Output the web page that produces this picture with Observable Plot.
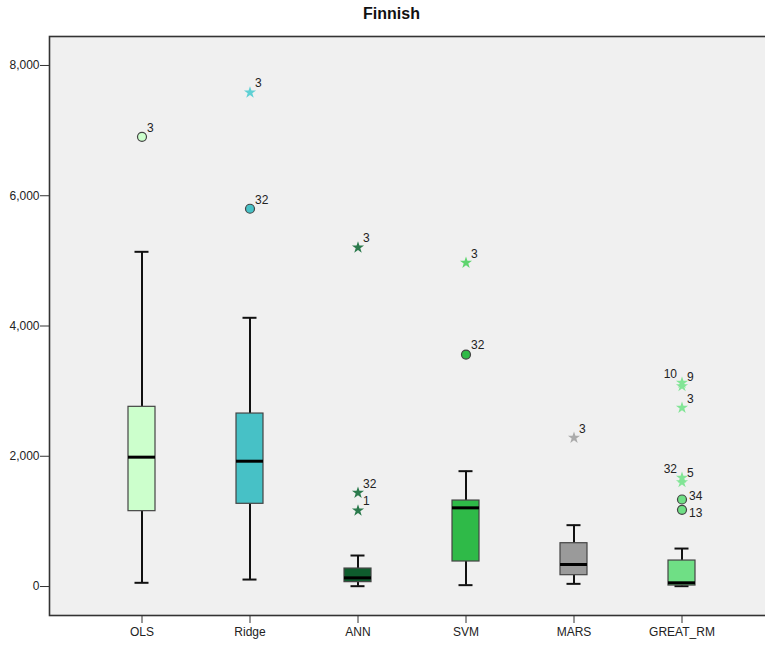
<!DOCTYPE html>
<html>
<head>
<meta charset="utf-8">
<script src="https://cdn.jsdelivr.net/npm/d3@7"></script>
<script src="https://cdn.jsdelivr.net/npm/@observablehq/plot@0.6"></script>
<style>
  body { margin: 0; background: #fff; font-family: "Liberation Sans", Arial, sans-serif; overflow: hidden; }
  #title { width: 765px; height: 30px; box-sizing: border-box; padding-left: 18px; padding-top: 5px;
           text-align: center; font-weight: bold; font-size: 16px; color: #111; }
  #chart { width: 765px; overflow: hidden; }
  #chart svg { max-width: none !important; }
</style>
</head>
<body>
<div id="title">Finnish</div>
<div id="chart"></div>
<script>
// Methods compared, in axis order
const methods = ["OLS", "Ridge", "ANN", "SVM", "MARS", "GREAT_RM"];

// Box summary per method
const whiskerLow  = [57, 107, 5, 21, 41, 5];
const q1          = [1157, 1270, 67, 384, 174, 15];
const median      = [1986, 1924, 133, 1208, 338, 57];
const q3          = [2759, 2656, 276, 1320, 665, 399];
const whiskerHigh = [5139, 4126, 476, 1771, 942, 583];

// Outlying cases: method, value, case label, kind (outlier = circle, extreme = star)
const outlierMethod = ["OLS", "Ridge", "Ridge", "ANN", "ANN", "ANN", "SVM", "SVM", "MARS",
                       "GREAT_RM", "GREAT_RM", "GREAT_RM", "GREAT_RM", "GREAT_RM", "GREAT_RM", "GREAT_RM"];
const outlierValue  = [6905, 7585, 5800, 5205, 1439, 1167, 4970, 3562, 2283,
                       3128, 3076, 2744, 1669, 1602, 1336, 1178];
const outlierCase   = ["3", "3", "32", "3", "32", "1", "3", "32", "3",
                       "10", "9", "3", "32", "5", "34", "13"];
const outlierKind   = ["outlier", "extreme", "outlier", "extreme", "extreme", "extreme", "extreme", "outlier", "extreme",
                       "extreme", "extreme", "extreme", "extreme", "extreme", "outlier", "outlier"];

const yTicks = [0, 2000, 4000, 6000, 8000];

// Fill colours per method
const boxFill  = ["#ccffcc", "#47c1c6", "#0e5c2d", "#2fba48", "#9a9a9a", "#6fdf85"];
const starFill = ["#ccffcc", "#5fd0d4", "#2b7a4c", "#5fd56f", "#ababab", "#82e596"];

const boxes = methods.map((m, i) => ({
  method: m, lo: whiskerLow[i], q1: q1[i], med: median[i], q3: q3[i], hi: whiskerHigh[i], fill: boxFill[i]
}));
const points = outlierMethod.map((m, i) => ({
  method: m, value: outlierValue[i], label: outlierCase[i], kind: outlierKind[i],
  fill: outlierKind[i] === "extreme" ? starFill[methods.indexOf(m)] : boxFill[methods.indexOf(m)]
}));

// Label placement around each marker (left-side labels where two cases overlap)
const placeKey = d => d.method + ":" + d.label;
const leftLabels = ["GREAT_RM:10", "GREAT_RM:32"];
const besideUp = ["GREAT_RM:34"];
const besideDown = ["GREAT_RM:13"];
const special = [...leftLabels, ...besideUp, ...besideDown];
const rightTop = points.filter(d => !special.includes(placeKey(d)));
const leftTop = points.filter(d => leftLabels.includes(placeKey(d)));
const upper = points.filter(d => besideUp.includes(placeKey(d)));
const lower = points.filter(d => besideDown.includes(placeKey(d)));

const textStyle = {x: "method", y: "value", text: "label", fill: "#222", fontSize: 12};

// The plot area runs past the right edge of the page, so its right border is cut off
const chart = Plot.plot({
  width: 800,
  height: 618,
  marginLeft: 49,
  marginRight: 0,
  marginTop: 6,
  marginBottom: 33,
  style: {fontFamily: "Liberation Sans, Arial, sans-serif", fontSize: "12px", color: "#222", background: "transparent", maxWidth: "none"},
  x: {type: "band", domain: methods, range: [44.9, 778.6], padding: 0.75, label: null},
  y: {domain: [-445, 8445], label: null},
  marks: [
    Plot.frame({fill: "#f0f0f0", stroke: "#333", strokeWidth: 1.6}),
    Plot.axisY({ticks: yTicks, tickFormat: d3.format(","), tickSize: 9, tickPadding: 1, stroke: "#333", fill: "#222"}),
    Plot.axisX({tickSize: 8, tickPadding: 4, stroke: "#333", fill: "#222"}),
    // whiskers
    Plot.ruleX(boxes, {x: "method", y1: "lo", y2: "q1", stroke: "#111", strokeWidth: 2}),
    Plot.ruleX(boxes, {x: "method", y1: "q3", y2: "hi", stroke: "#111", strokeWidth: 2}),
    Plot.tickY(boxes, {x: "method", y: "lo", stroke: "#111", strokeWidth: 2, insetLeft: 6.5, insetRight: 6.5}),
    Plot.tickY(boxes, {x: "method", y: "hi", stroke: "#111", strokeWidth: 2, insetLeft: 6.5, insetRight: 6.5}),
    // boxes
    Plot.barY(boxes, {x: "method", y1: "q1", y2: "q3", fill: "fill", stroke: "#444", strokeWidth: 1.2}),
    Plot.tickY(boxes, {x: "method", y: "med", stroke: "#000", strokeWidth: 3}),
    // outliers and extremes
    Plot.dot(points.filter(d => d.kind === "outlier"), {x: "method", y: "value", fill: "fill", stroke: "#444", strokeWidth: 1.2, r: 4.5}),
    Plot.dot(points.filter(d => d.kind === "extreme"), {x: "method", y: "value", fill: "fill", symbol: "star", r: 3.8}),
    Plot.text(rightTop, {...textStyle, dx: 5, dy: -9, textAnchor: "start"}),
    Plot.text(leftTop, {...textStyle, dx: -5, dy: -9, textAnchor: "end"}),
    Plot.text(upper, {...textStyle, dx: 7, dy: -3, textAnchor: "start"}),
    Plot.text(lower, {...textStyle, dx: 7, dy: 3, textAnchor: "start"})
  ]
});
document.getElementById("chart").appendChild(chart);
</script>
</body>
</html>
